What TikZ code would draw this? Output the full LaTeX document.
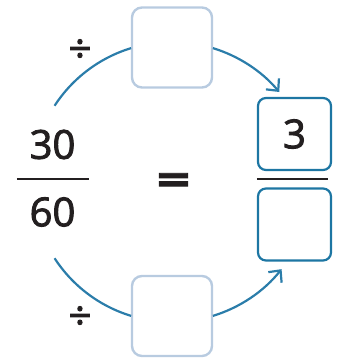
\documentclass[tikz,border=0pt]{standalone}
\usepackage{fontspec}
\setmainfont{Open Sans}
\newfontfamily\numfont{Open Sans}[FakeBold=2.2]
\newfontfamily\eqfont{Open Sans}[FakeBold=2]
\usetikzlibrary{arrows.meta}
\definecolor{arcblue}{HTML}{2B7DAA}
\definecolor{boxblue}{HTML}{1D76A3}
\definecolor{lightbox}{HTML}{B8CBE0}
\definecolor{ink}{HTML}{231F20}
\tikzset{
  lightsq/.style={draw=lightbox, line width=2.4pt, rounded corners=10pt, minimum width=80pt, minimum height=80pt, inner sep=0pt},
  darksq/.style={draw=boxblue, line width=2.2pt, rounded corners=8pt, minimum width=73pt, minimum height=72pt, inner sep=0pt, text=ink, font=\fontsize{40}{40}\numfont},
  num/.style={text=ink, font=\fontsize{40}{40}\numfont, inner sep=0pt},
  divsign/.style={text=ink, font=\fontsize{40}{40}\numfont, inner sep=0pt},
  fracline/.style={draw=ink, line width=2pt},
  arcline/.style={draw=arcblue, line width=2.2pt},
  arcarrow/.style={arcline, -{Straight Barb[length=9pt, width=17pt, line width=2.2pt]}}
}
\begin{document}
\begin{tikzpicture}[x=1pt,y=1pt]
\useasboundingbox (0,0) rectangle (338,360);
\coordinate (c) at (172,178);
\node[lightsq] (topbox) at (172,312.5) {};
\node[lightsq] (botbox) at (172,44) {};
\node[darksq] (numbox) at (294.5,226) {3};
\node[darksq] (denbox) at (294.5,135.5) {};
\node[num] (n30) at (52.5,215.5) {30};
\node[num] (n60) at (52.5,148) {60};
\node[divsign] (dtop) at (80,309) {÷};
\node[divsign] (dbot) at (80,42) {÷};
\node[text=ink, inner sep=0pt, anchor=base, font=\fontsize{58}{58}\eqfont\bfseries] (eq) at (173.5,165) {\scalebox{1}[0.75]{=}};
\coordinate (lf1) at (17,181);
\coordinate (lf2) at (89,181);
\coordinate (rf1) at (257,181);
\coordinate (rf2) at (328,181);
\draw[fracline] (lf1) -- (lf2);
\draw[fracline] (rf1) -- (rf2);
\coordinate (a1) at ([shift={(147:140pt)}]c);
\coordinate (a2) at ([shift={(73:140pt)}]c);
\coordinate (b1) at ([shift={(-147:140pt)}]c);
\coordinate (b2) at ([shift={(-73:140pt)}]c);
\draw[arcline] (a1) arc[start angle=147, end angle=107, radius=140pt];
\draw[arcarrow] (a2) arc[start angle=73, end angle=40, radius=140pt];
\draw[arcline] (b1) arc[start angle=-147, end angle=-107, radius=140pt];
\draw[arcarrow] (b2) arc[start angle=-73, end angle=-38.5, radius=140pt];
\end{tikzpicture}
\end{document}
